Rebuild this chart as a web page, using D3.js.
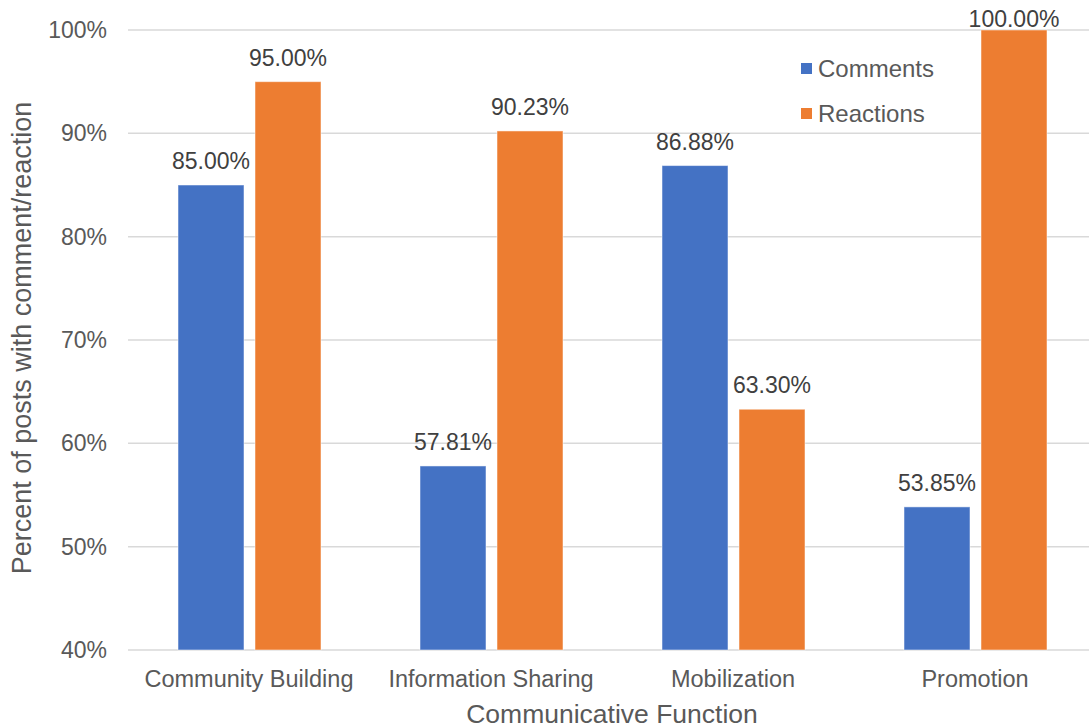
<!DOCTYPE html>
<html><head><meta charset="utf-8">
<script src="https://cdn.jsdelivr.net/npm/d3@7"></script>
<style>body{margin:0;background:#fff}svg{display:block}text{font-family:"Liberation Sans",Arial,sans-serif}</style>
</head><body><svg id="c" width="1089" height="728"></svg>
<script>
const categories = ["Community Building","Information Sharing","Mobilization","Promotion"];
const seriesNames = ["Comments","Reactions"];
const comments = [85.00, 57.81, 86.88, 53.85];
const reactions = [95.00, 90.23, 63.30, 100.00];
const yTicks = [40,50,60,70,80,90,100];
const colors = ["#4472C4","#ED7D31"];

const svg = d3.select("#c");
const m = {l:128, r:1096, t:30, b:650};
const x = d3.scaleBand().domain(categories).range([m.l, m.r]);
const xs = d3.scaleBand().domain(seriesNames).range([50, 50+143]).paddingInner(11/77);
const y = d3.scaleLinear().domain([40,100]).range([m.b, m.t]);

// gridlines
svg.append("g").selectAll("line").data(yTicks).join("line")
  .attr("x1", m.l).attr("x2", 1089)
  .attr("y1", d=>y(d)).attr("y2", d=>y(d))
  .attr("stroke","#d9d9d9").attr("stroke-width",1.5);

// y tick labels
svg.append("g").selectAll("text").data(yTicks).join("text")
  .attr("x", 107).attr("y", d=>y(d)+8)
  .attr("text-anchor","end").attr("font-size",23).attr("fill","#595959")
  .text(d=>d+"%");

const data = seriesNames.map((s,i)=>({s, vals: i===0?comments:reactions, color: colors[i]}));
data.forEach(ser=>{
  const g = svg.append("g");
  g.selectAll("rect").data(ser.vals).join("rect")
    .attr("x",(d,i)=>x(categories[i])+xs(ser.s))
    .attr("width", xs.bandwidth())
    .attr("y", d=>y(d)).attr("height", d=>y(40)-y(d))
    .attr("fill", ser.color).attr("stroke","#fff").attr("stroke-opacity",0.5).attr("stroke-width",1);
  g.selectAll("text").data(ser.vals).join("text")
    .attr("x",(d,i)=>x(categories[i])+xs(ser.s)+xs.bandwidth()/2)
    .attr("y", d=>Math.max(27, y(d)-16))
    .attr("text-anchor","middle").attr("font-size",23).attr("fill","#404040")
    .text(d=>d.toFixed(2)+"%");
});

// x labels
svg.append("g").selectAll("text").data(categories).join("text")
  .attr("x", d=>x(d)+x.bandwidth()/2).attr("y", 687)
  .attr("text-anchor","middle").attr("font-size",23.5).attr("fill","#595959")
  .text(d=>d);

// axis titles
svg.append("text").attr("x",612).attr("y",723).attr("text-anchor","middle")
  .attr("font-size",26.5).attr("fill","#595959").text("Communicative Function");
svg.append("text").attr("transform","translate(31,338) rotate(-90)").attr("text-anchor","middle")
  .attr("font-size",27).attr("fill","#595959").text("Percent of posts with comment/reaction");

// legend
const lg = svg.append("g").selectAll("g").data(seriesNames).join("g")
  .attr("transform",(d,i)=>`translate(801,${63+i*45})`);
lg.append("rect").attr("width",11).attr("height",11).attr("fill",(d,i)=>colors[i]);
lg.append("text").attr("x",17).attr("y",14).attr("font-size",24).attr("fill","#595959").text(d=>d);
</script></body></html>
